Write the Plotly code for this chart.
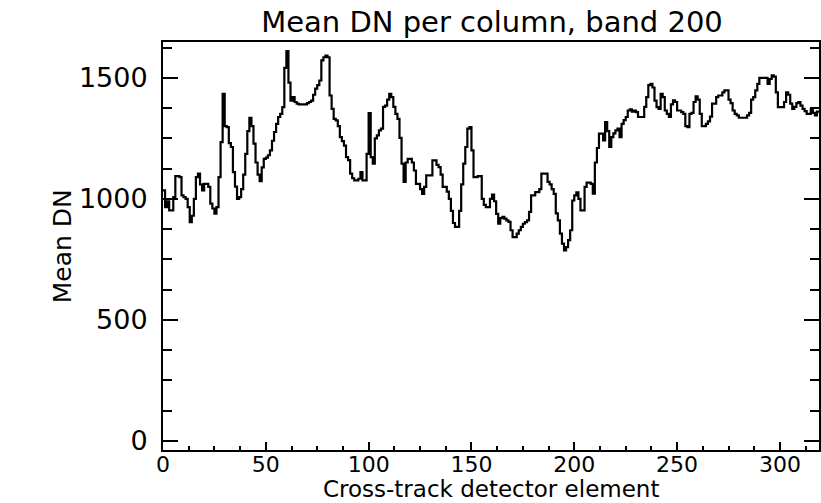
import plotly.graph_objects as go

# Mean DN per column (band 200), one value per cross-track detector element 0..319
mean_dn = [
    1035, 966, 990, 952, 952, 1007, 1094, 1094, 1090, 1014,
    1007, 1000, 966, 904, 930, 1000, 1090, 1104, 1060, 1035,
    1062, 1062, 1049, 980, 960, 939, 966, 1090, 1234, 1434,
    1300, 1296, 1230, 1214, 1110, 1050, 1000, 1007, 1040, 1100,
    1186, 1280, 1335, 1300, 1228, 1150, 1100, 1073, 1130, 1165,
    1170, 1180, 1200, 1240, 1276, 1310, 1338, 1351, 1379, 1541,
    1610, 1480, 1406, 1420, 1400, 1393, 1390, 1390, 1390, 1390,
    1395, 1400, 1406, 1430, 1455, 1470, 1489, 1572, 1585, 1592,
    1585, 1427, 1372, 1330, 1324, 1300, 1255, 1238, 1220, 1172,
    1160, 1104, 1085, 1076, 1076, 1083, 1110, 1076, 1076, 1186,
    1354, 1172, 1145, 1250, 1262, 1283, 1290, 1380, 1385, 1410,
    1434, 1420, 1380, 1351, 1330, 1252, 1145, 1070, 1150, 1165,
    1165, 1150, 1117, 1062, 1062, 1040, 1020, 1049, 1097, 1097,
    1097, 1159, 1159, 1140, 1131, 1100, 1049, 1049, 1030, 1000,
    950, 900, 884, 884, 950, 1060, 1145, 1214, 1290, 1296,
    1200, 1090, 1090, 1094, 1094, 1000, 975, 966, 966, 1000,
    1017, 990, 938, 897, 920, 925, 918, 911, 905, 870,
    842, 842, 856, 870, 884, 897, 904, 911, 946, 1014,
    1014, 1028, 1028, 1040, 1104, 1104, 1104, 1070, 1060, 1040,
    1020, 940, 911, 856, 815, 787, 800, 829, 870, 993,
    1014, 1027, 1000, 952, 952, 1049, 1067, 1067, 1062, 1021,
    1150, 1210, 1269, 1269, 1241, 1317, 1280, 1214, 1255, 1270,
    1283, 1290, 1255, 1310, 1325, 1338, 1365, 1370, 1360, 1365,
    1358, 1338, 1338, 1338, 1380, 1420, 1470, 1475, 1460, 1406,
    1379, 1372, 1434, 1420, 1365, 1351, 1338, 1390, 1407, 1400,
    1365, 1365, 1358, 1351, 1300, 1296, 1351, 1355, 1400, 1423,
    1410, 1351, 1300, 1300, 1310, 1320, 1340, 1393, 1393, 1420,
    1427, 1427, 1440, 1448, 1448, 1410, 1395, 1365, 1351, 1345,
    1335, 1335, 1335, 1335, 1345, 1355, 1410, 1420, 1448, 1475,
    1500, 1500, 1500, 1500, 1475, 1495, 1510, 1505, 1440, 1379,
    1379, 1379, 1400, 1440, 1430, 1393, 1372, 1380, 1395, 1400,
    1385, 1372, 1362, 1351, 1351, 1370, 1355, 1345, 1360, 1360,
]
element = list(range(len(mean_dn)))

title_text = "Mean DN per column, band 200"
x_title = "Cross-track detector element"
y_title = "Mean DN"

FONT = "DejaVu Sans"

fig = go.Figure()
fig.add_trace(go.Scatter(
    x=element, y=mean_dn, mode="lines",
    line=dict(color="black", width=2.2, shape="hv"),
    hoverinfo="skip", showlegend=False,
))

fig.update_layout(
    width=821, height=503,
    margin=dict(l=163, r=0, t=42, b=53),
    paper_bgcolor="white", plot_bgcolor="white",
    font=dict(family=FONT, size=23, color="black"),
    title=dict(text=title_text, x=492 / 821, xanchor="center",
               y=1 - 22 / 503, yanchor="middle", yref="container",
               font=dict(family=FONT, size=29, color="black")),
    showlegend=False,
)

# axis titles as annotations (pixel-placed like the reference)
fig.add_annotation(text=x_title, xref="paper", yref="paper",
                   x=0.5, y=-53 / 408,
                   xanchor="center", yanchor="bottom", showarrow=False,
                   borderpad=0, yshift=0,
                   font=dict(family=FONT, size=23, color="black"))
fig.add_annotation(text=y_title, xref="paper", yref="paper",
                   x=(62 - 163) / 658, y=0.5, textangle=-90,
                   xanchor="center", yanchor="middle", showarrow=False,
                   font=dict(family=FONT, size=25, color="black"))

fig.update_xaxes(
    range=[0, 319], showgrid=False, zeroline=False,
    showline=True, linecolor="black", linewidth=2, mirror=True,
    ticks="inside", ticklen=8, tickwidth=1.5, tickcolor="black",
    tick0=0, dtick=50,
    minor=dict(dtick=12.5, ticklen=4, tickwidth=1.5, tickcolor="black", ticks="inside"),
    tickfont=dict(family=FONT, size=22, color="black"),
    ticklabelstandoff=-6,
)
fig.update_yaxes(
    range=[-38, 1648], showgrid=False, zeroline=False,
    showline=True, linecolor="black", linewidth=2, mirror="ticks",
    ticks="inside", ticklen=15, tickwidth=1.5, tickcolor="black",
    tick0=0, dtick=500,
    minor=dict(dtick=125, ticklen=9, tickwidth=1.5, tickcolor="black", ticks="inside"),
    tickfont=dict(family=FONT, size=27, color="black"),
    ticklabelstandoff=8,
)

fig.write_html("out.html")
